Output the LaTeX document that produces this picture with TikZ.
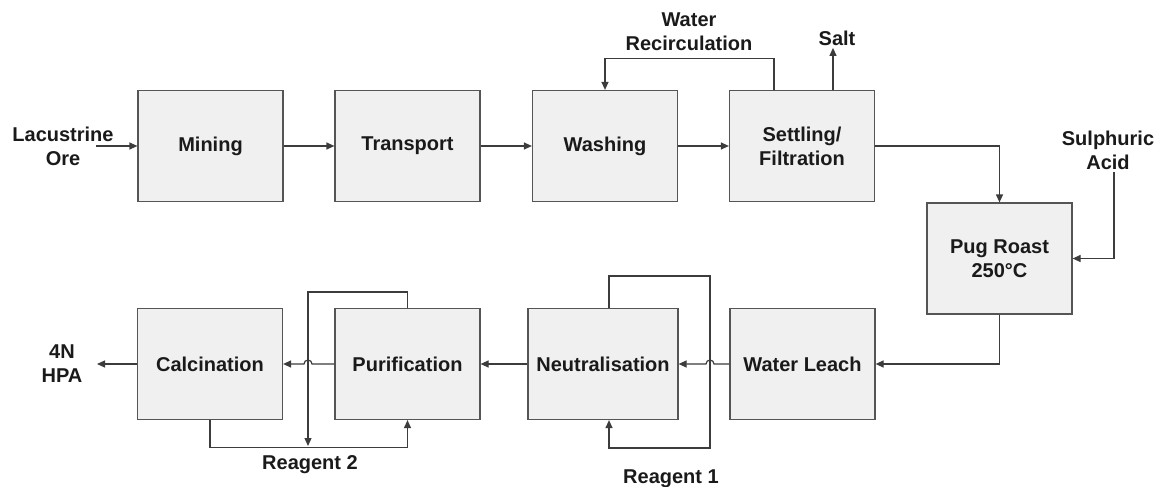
\documentclass[tikz,border=0pt]{standalone}
\usepackage{fontspec}
\setmainfont{Liberation Sans}
\usetikzlibrary{arrows.meta,calc}
\definecolor{boxfill}{HTML}{F0F0F0}
\definecolor{boxline}{HTML}{555555}
\definecolor{wire}{HTML}{3C3C3C}
\definecolor{txt}{HTML}{1A1A1A}
\begin{document}
\begin{tikzpicture}[x=1pt,y=-1pt,
  box/.style={draw=boxline,fill=boxfill,line width=1.2pt,minimum width=145pt,minimum height=111pt,inner sep=0pt,font=\fontsize{20}{24}\selectfont\bfseries,text=txt,align=center},
  lbl/.style={font=\fontsize{20}{24}\selectfont\bfseries,text=txt,align=center,inner sep=0pt},
  arr/.style={draw=wire,line width=1.2pt,-{Triangle[length=8pt,width=7pt]}},
  ln/.style={draw=wire,line width=1.2pt}]
\useasboundingbox (0,0) rectangle (1159,487);
% process boxes
\node[box] (mining) at (210.5,146) {Mining};
\node[box] (transport) at (407.5,146) {Transport};
\node[box] (washing) at (605,146) {Washing};
\node[box] (settling) at (802,146) {Settling/\\Filtration};
\node[box] (pug) at (999.5,258.5) {Pug Roast\\250°C};
\node[box] (wl) at (802.5,364) {Water Leach};
\node[box,minimum width=150pt] (neut) at (603,364) {Neutralisation};
\node[box] (pur) at (407.5,364) {Purification};
\node[box] (calc) at (210,364) {Calcination};
% labels
\node[lbl] (ore) at (63,146) {Lacustrine\\Ore};
\node[lbl] (recirc) at (689,32) {Water\\Recirculation};
\node[lbl,anchor=base] (salt) at (837,46) {Salt};
\node[lbl] (acid) at (1108,150) {Sulphuric\\Acid};
\node[lbl] (hpa) at (62,364) {4N\\HPA};
\node[lbl,anchor=base] (r2) at (310,469.5) {Reagent 2};
\node[lbl,anchor=base] (r1) at (671,483.5) {Reagent 1};
% free ends / helper points
\coordinate (orein) at (96,146);
\coordinate (hpaout) at (97,364);
\coordinate (acidin) at (1114,172);
\coordinate (j1) at (710,364);
\coordinate (j2) at (308,364);
\coordinate (r2pt) at (308,446);
% connectors
\draw[arr] (orein) -- (mining.west);
\draw[arr] (mining.east) -- (transport.west);
\draw[arr] (transport.east) -- (washing.west);
\draw[arr] (washing.east) -- (settling.west);
\draw[arr] ([xshift=-28pt]settling.north) -- ++(0,-31) -| (washing.north);
\draw[arr] ([xshift=31pt]settling.north) -- ++(0,-42);
\draw[arr] (settling.east) -| (pug.north);
\draw[arr] (acidin) |- (pug.east);
\draw[arr] (pug.south) |- (wl.east);
\draw[arr] (wl.west) -- ($(j1)+(4,0)$) arc[start angle=0,end angle=180,radius=4pt] -- (neut.east);
\draw[arr] ([xshift=6pt]neut.north) -- ++(0,-32) -- ++(101,0) -- ++(0,172) -| ([xshift=6pt]neut.south);
\draw[arr] (neut.west) -- (pur.east);
\draw[arr] (pur.west) -- ($(j2)+(4,0)$) arc[start angle=0,end angle=180,radius=4pt] -- (calc.east);
\draw[arr] (pur.north) -- ++(0,-16) -| (r2pt);
\draw[arr] (calc.south) -- ++(0,27) -| (pur.south);
\draw[arr] (calc.west) -- (hpaout);
\end{tikzpicture}
\end{document}
